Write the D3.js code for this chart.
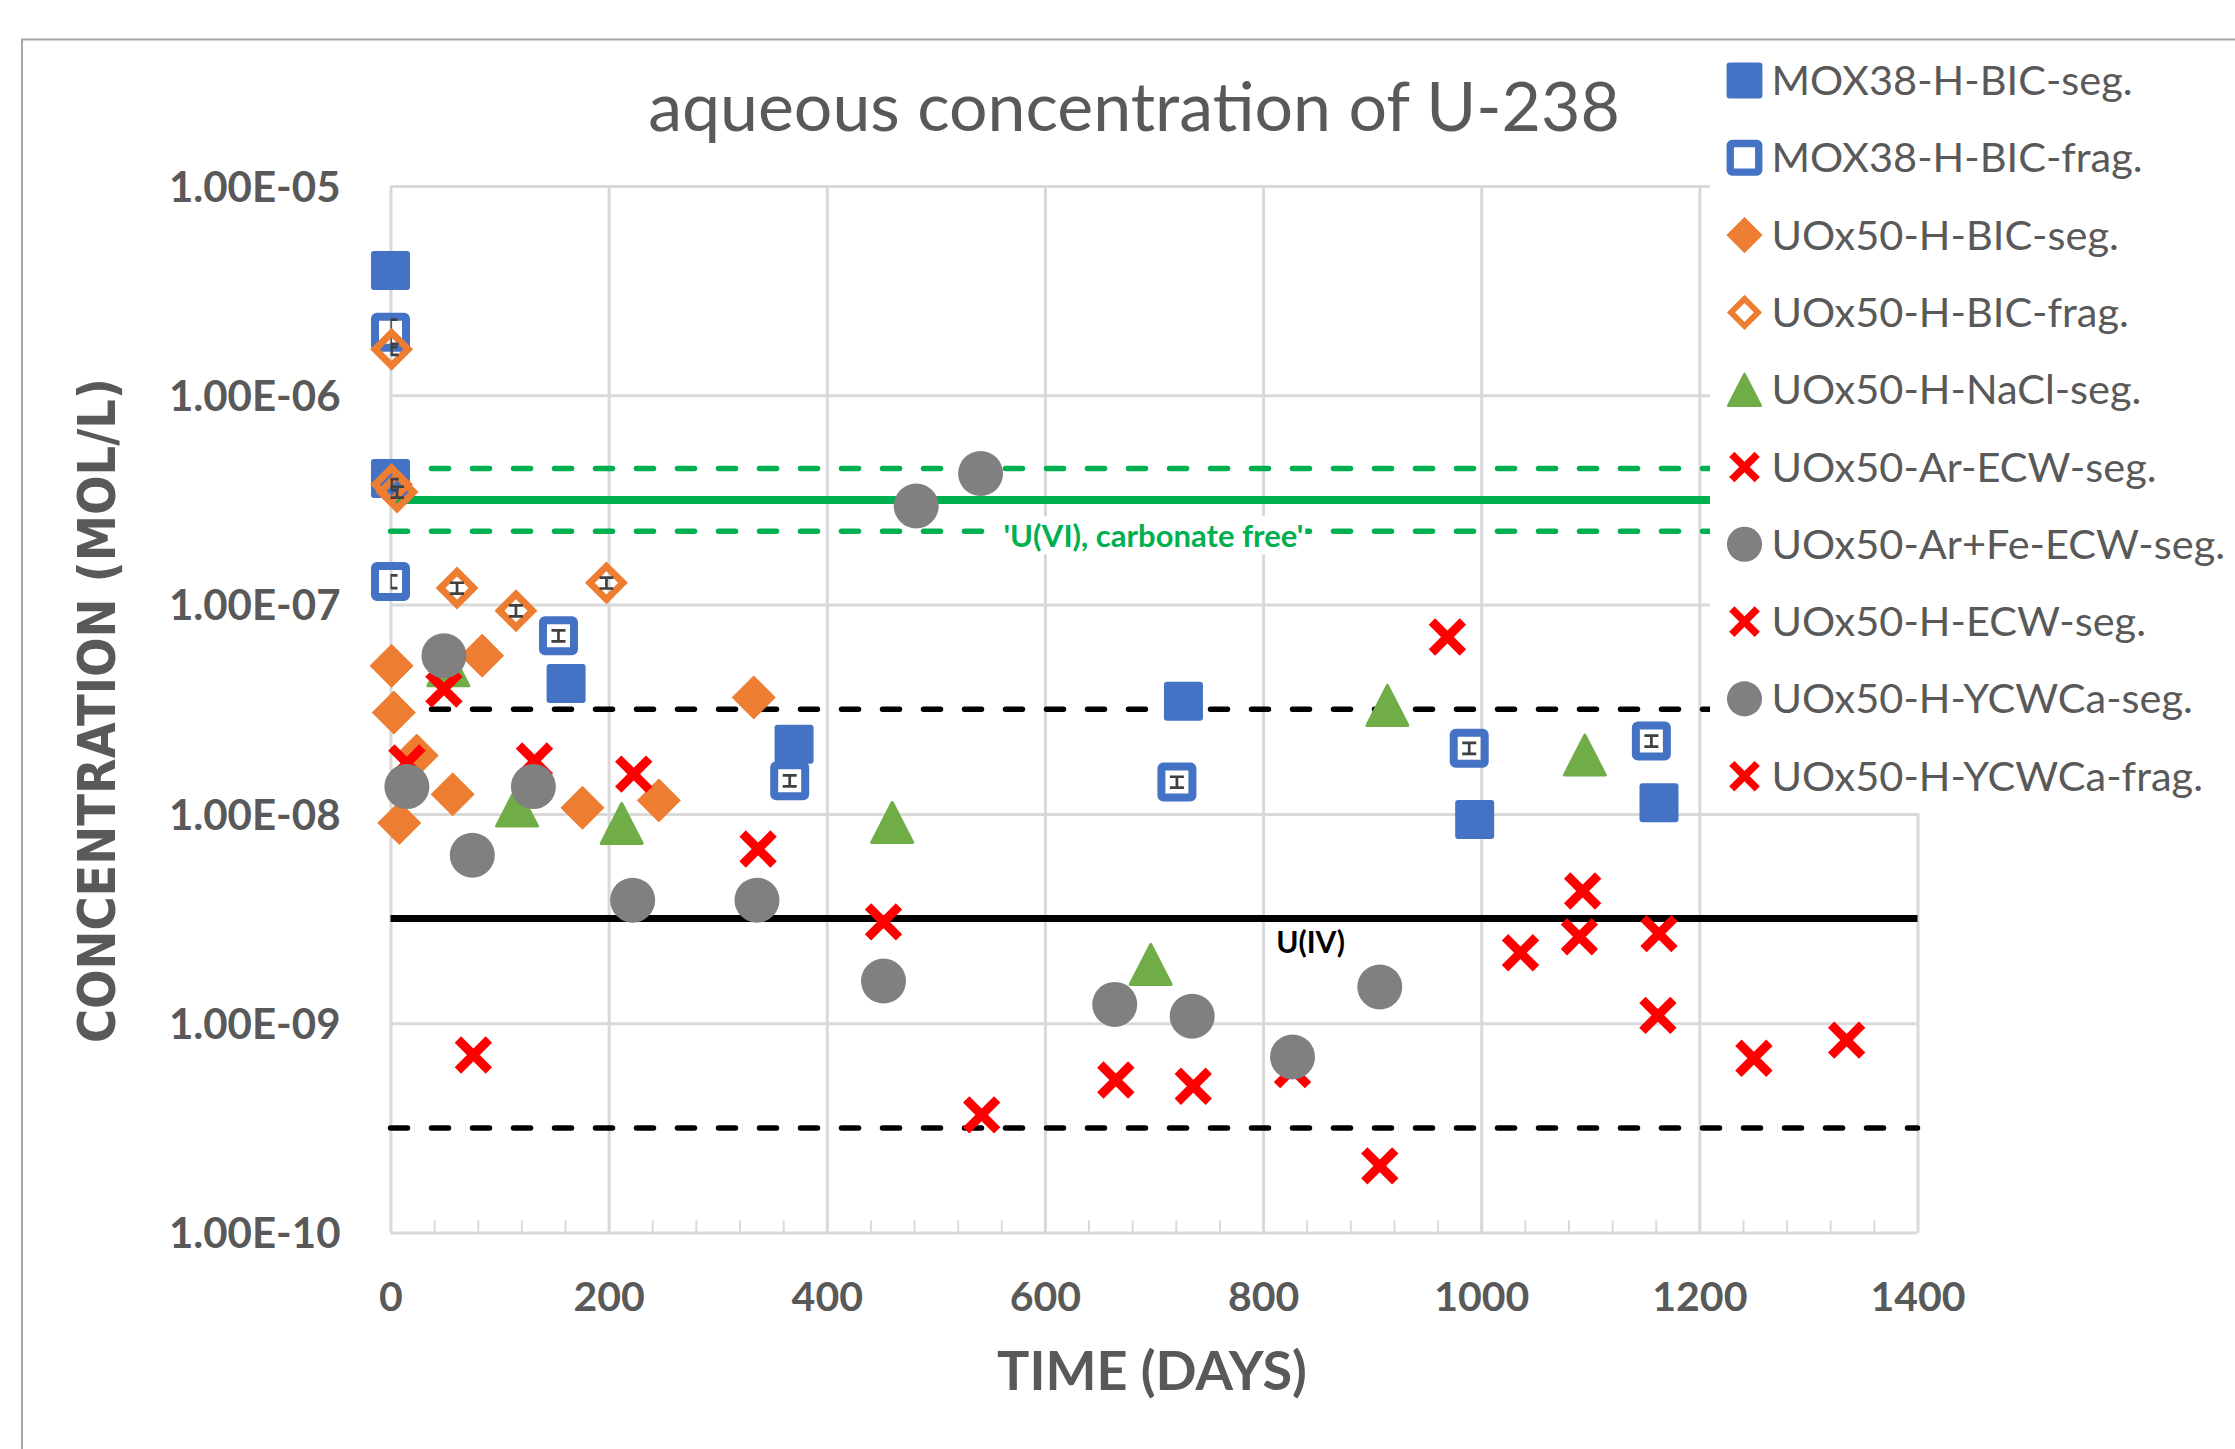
<!DOCTYPE html>
<html>
<head>
<meta charset="utf-8">
<script src="https://cdn.jsdelivr.net/npm/d3@7"></script>
<style>
  body { margin: 0; background: #fff; }
  svg { display: block; }
</style>
</head>
<body>
<svg id="chart" width="2235" height="1449"></svg>
<script>
// values (days, mol/L)
const mox38SegDays = [0, 0, 161, 370, 727, 994, 1163];
const mox38SegConc = [3.95e-6, 4.0e-7, 4.2e-8, 2.15e-8, 3.45e-8, 9.4e-9, 1.13e-8];

const mox38FragDays = [0, 0, 154, 366, 721, 989, 1156];
const mox38FragConc = [2.0e-6, 1.29e-7, 7.1e-8, 1.44e-8, 1.42e-8, 2.06e-8, 2.23e-8];
const mox38FragErr = [0.15, 0.07, 0.06, 0.06, 0.06, 0.06, 0.06];

const uoxBicSegDays = [1, 3, 8, 24, 57, 84, 176, 246, 333];
const uoxBicSegConc = [5.1e-8, 3.05e-8, 9.05e-9, 1.9e-8, 1.24e-8, 5.7e-8, 1.07e-8, 1.16e-8, 3.6e-8];

const uoxBicFragDays = [1, 1, 6, 61, 115, 198];
const uoxBicFragConc = [1.66e-6, 3.75e-7, 3.45e-7, 1.2e-7, 9.35e-8, 1.27e-7];
const uoxBicFragErr = [0.06, 0.06, 0.06, 0.06, 0.06, 0.06];

const uoxNaclSegDays = [53, 116, 212, 460, 697, 914, 1095];
const uoxNaclSegConc = [5.1e-8, 1.09e-8, 9.0e-9, 9.1e-9, 1.91e-9, 3.3e-8, 1.91e-8];

const uoxArEcwDays = [15, 49, 132, 223, 337, 452, 542, 665, 736, 827, 907];
const uoxArEcwConc = [1.75e-8, 3.95e-8, 1.79e-8, 1.55e-8, 6.8e-9, 3.05e-9, 3.65e-10, 5.35e-10, 5.0e-10, 6.0e-10, 2.08e-10];

const uoxArFeEcwDays = [15, 49, 131, 222, 336, 452, 664, 735, 827, 907];
const uoxArFeEcwConc = [1.35e-8, 5.7e-8, 1.35e-8, 3.87e-9, 3.87e-9, 1.59e-9, 1.23e-9, 1.08e-9, 6.9e-10, 1.49e-9];

const uoxHEcwDays = [76, 969, 1036, 1090, 1163];
const uoxHEcwConc = [7.05e-10, 7.0e-8, 2.17e-9, 2.59e-9, 2.68e-9];

const uoxYcwSegDays = [75, 482, 541];
const uoxYcwSegConc = [6.35e-9, 2.96e-7, 4.23e-7];

const uoxYcwFragDays = [1093, 1162, 1250, 1335];
const uoxYcwFragConc = [4.28e-9, 1.09e-9, 6.8e-10, 8.3e-10];

// solubility levels
const uviLevel = 3.16e-7;
const uviBand = [2.24e-7, 4.47e-7];
const uivLevel = 3.16e-9;
const uivBand = [3.16e-10, 3.16e-8];

const xTicks = [0, 200, 400, 600, 800, 1000, 1200, 1400];
const yTicks = [1e-10, 1e-9, 1e-8, 1e-7, 1e-6, 1e-5];

const series = [
  { name: "MOX38-H-BIC-seg.", shape: "square", color: "#4472C4", days: mox38SegDays, conc: mox38SegConc },
  { name: "MOX38-H-BIC-frag.", shape: "squareOpen", color: "#4472C4", days: mox38FragDays, conc: mox38FragConc, err: mox38FragErr },
  { name: "UOx50-H-BIC-seg.", shape: "diamond", color: "#ED7D31", days: uoxBicSegDays, conc: uoxBicSegConc },
  { name: "UOx50-H-BIC-frag.", shape: "diamondOpen", color: "#ED7D31", days: uoxBicFragDays, conc: uoxBicFragConc, err: uoxBicFragErr },
  { name: "UOx50-H-NaCl-seg.", shape: "triangle", color: "#70AD47", days: uoxNaclSegDays, conc: uoxNaclSegConc },
  { name: "UOx50-Ar-ECW-seg.", shape: "cross", color: "#FF0000", days: uoxArEcwDays, conc: uoxArEcwConc },
  { name: "UOx50-Ar+Fe-ECW-seg.", shape: "circle", color: "#808080", days: uoxArFeEcwDays, conc: uoxArFeEcwConc },
  { name: "UOx50-H-ECW-seg.", shape: "cross", color: "#FF0000", days: uoxHEcwDays, conc: uoxHEcwConc },
  { name: "UOx50-H-YCWCa-seg.", shape: "circle", color: "#808080", days: uoxYcwSegDays, conc: uoxYcwSegConc },
  { name: "UOx50-H-YCWCa-frag.", shape: "cross", color: "#FF0000", days: uoxYcwFragDays, conc: uoxYcwFragConc },
];

const TEXT_GREY = "#595959";
const GRID = "#d9d9d9";
const FONT = "Lato, 'Open Sans', sans-serif";

const svg = d3.select("#chart");
const plot = { left: 390.5, right: 1917.5, top: 186, bottom: 1232.5 };

const x = d3.scaleLinear([0, 1400], [plot.left, plot.right]);
const y = d3.scaleLog([1e-10, 1e-5], [plot.bottom, plot.top]);

// chart frame (runs off the right and bottom of the picture)
svg.append("rect")
  .attr("x", 22).attr("y", 39.5)
  .attr("width", 2400).attr("height", 1500)
  .attr("fill", "#fff").attr("stroke", "#a6a6a6").attr("stroke-width", 2);

// gridlines
const gy = svg.append("g")
  .attr("transform", `translate(${plot.left},0)`)
  .call(d3.axisLeft(y).tickValues(yTicks).tickSize(-(plot.right - plot.left)).tickFormat(""));
gy.select(".domain").remove();
gy.selectAll("line").attr("stroke", GRID).attr("stroke-width", 3);

const gx = svg.append("g")
  .attr("transform", `translate(0,${plot.bottom})`)
  .call(d3.axisBottom(x).tickValues(xTicks).tickSize(-(plot.bottom - plot.top)).tickFormat(""));
gx.select(".domain").remove();
gx.selectAll("line").attr("stroke", GRID).attr("stroke-width", 3);

// minor ticks on the time axis
const gm = svg.append("g")
  .attr("transform", `translate(0,${plot.bottom})`)
  .call(d3.axisBottom(x).tickValues(d3.range(0, 1401, 40)).tickSize(-12).tickFormat(""));
gm.select(".domain").remove();
gm.selectAll("line").attr("stroke", GRID).attr("stroke-width", 2);

// tick labels
const fmtExp = (d) => "1.00E-" + String(Math.round(-Math.log10(d))).padStart(2, "0");

const yl = svg.append("g")
  .attr("transform", `translate(${plot.left},0)`)
  .call(d3.axisLeft(y).tickValues(yTicks).tickSize(0).tickPadding(50).tickFormat(fmtExp));
yl.select(".domain").remove();
yl.attr("font-family", FONT).attr("font-size", 42).attr("font-weight", "bold");
yl.selectAll("text").attr("fill", TEXT_GREY).attr("dy", "0.36em");

const xl = svg.append("g")
  .attr("transform", `translate(0,${plot.bottom})`)
  .call(d3.axisBottom(x).tickValues(xTicks).tickSize(0).tickPadding(49).tickFormat(d3.format("d")));
xl.select(".domain").remove();
xl.attr("font-family", FONT).attr("font-size", 41).attr("font-weight", "bold");
xl.selectAll("text").attr("fill", TEXT_GREY);

// axis titles and chart title
svg.append("text")
  .attr("x", 1152).attr("y", 1390)
  .attr("text-anchor", "middle")
  .attr("font-family", FONT).attr("font-size", 54).attr("font-weight", "bold")
  .attr("fill", TEXT_GREY)
  .text("TIME (DAYS)");

svg.append("text")
  .attr("transform", "translate(115,710.5) rotate(-90)")
  .attr("text-anchor", "middle")
  .attr("font-family", "'DejaVu Sans', sans-serif").attr("font-size", 52).attr("font-weight", "bold")
  .attr("textLength", 665).attr("lengthAdjust", "spacingAndGlyphs")
  .attr("fill", TEXT_GREY)
  .text("CONCENTRATION (MOL/L)");

svg.append("text")
  .attr("x", 1134).attr("y", 131)
  .attr("text-anchor", "middle")
  .attr("font-family", FONT).attr("font-size", 68)
  .attr("fill", TEXT_GREY)
  .text("aqueous concentration of U-238");

// solubility lines
function hline(v, color, width, dashed) {
  const l = svg.append("line")
    .attr("x1", x(0)).attr("x2", x(1400))
    .attr("y1", y(v)).attr("y2", y(v))
    .attr("stroke", color).attr("stroke-width", width);
  if (dashed) l.attr("stroke-dasharray", "17,24").attr("stroke-linecap", "round");
}
hline(uviBand[1], "#00B050", 5.5, true);
hline(uviLevel, "#00B050", 8, false);
hline(uviBand[0], "#00B050", 5.5, true);
hline(uivBand[1], "#000", 5.5, true);
hline(uivLevel, "#000", 7, false);
hline(uivBand[0], "#000", 5.5, true);

// line labels
const uviLabel = svg.append("g");
const uviText = uviLabel.append("text")
  .attr("x", x(562)).attr("y", y(uviBand[0]) + 16)
  .attr("font-family", FONT).attr("font-size", 31).attr("font-weight", "bold")
  .attr("fill", "#00B050")
  .text("'U(VI), carbonate free'");
const bb = uviText.node().getBBox();
uviLabel.insert("rect", "text")
  .attr("x", bb.x - 2).attr("y", bb.y)
  .attr("width", bb.width + 4).attr("height", bb.height)
  .attr("fill", "#fff");

svg.append("text")
  .attr("x", x(812)).attr("y", y(uivLevel) + 34)
  .attr("font-family", FONT).attr("font-size", 30).attr("font-weight", "bold")
  .attr("fill", "#000")
  .text("U(IV)");

// legend panel sits over the top right of the plot
svg.append("rect")
  .attr("x", 1710).attr("y", 41)
  .attr("width", 600).attr("height", 772)
  .attr("fill", "#fff");

function drawMarker(g, shape, color, s) {
  if (shape === "square") {
    g.append("rect").attr("x", -19.5 * s).attr("y", -19.5 * s)
      .attr("width", 39 * s).attr("height", 39 * s).attr("rx", 3).attr("fill", color);
  } else if (shape === "squareOpen") {
    g.append("rect").attr("x", -15.5 * s).attr("y", -15.5 * s)
      .attr("width", 31 * s).attr("height", 31 * s).attr("rx", 2)
      .attr("fill", "none").attr("stroke", color).attr("stroke-width", 8 * s);
  } else if (shape === "diamond") {
    const h = 21.5 * s;
    g.append("path").attr("d", `M0,${-h}L${h},0L0,${h}L${-h},0Z`)
      .attr("fill", color).attr("stroke", color).attr("stroke-width", 1).attr("stroke-linejoin", "round");
  } else if (shape === "diamondOpen") {
    const h = 16.5 * s;
    g.append("path").attr("d", `M0,${-h}L${h},0L0,${h}L${-h},0Z`)
      .attr("fill", "none").attr("stroke", color).attr("stroke-width", 7 * s);
  } else if (shape === "triangle") {
    const h = 20 * s, w = 20.5 * s;
    g.append("path").attr("d", `M0,${-h}L${w},${h}L${-w},${h}Z`)
      .attr("fill", color).attr("stroke", color).attr("stroke-width", 3 * s).attr("stroke-linejoin", "round");
  } else if (shape === "cross") {
    const h = 15.5 * s;
    g.append("path").attr("d", `M${-h},${-h}L${h},${h}M${h},${-h}L${-h},${h}`)
      .attr("fill", "none").attr("stroke", color).attr("stroke-width", 9 * s);
  } else if (shape === "circle") {
    g.append("circle").attr("r", 22.5 * s).attr("fill", color);
  }
}

// clip for the error bars, as in the source chart
svg.append("clipPath").attr("id", "plot-clip")
  .append("rect")
  .attr("x", plot.left).attr("y", plot.top)
  .attr("width", plot.right - plot.left).attr("height", plot.bottom - plot.top);

const marks = svg.append("g");
series.forEach((s) => {
  const pts = s.days.map((d, i) => ({ d, v: s.conc[i], e: s.err ? s.err[i] : 0 }));
  const g = marks.append("g");
  g.selectAll("g.pt").data(pts).join("g")
    .attr("class", "pt")
    .attr("transform", (p) => `translate(${x(p.d)},${y(p.v)})`)
    .each(function () { drawMarker(d3.select(this), s.shape, s.color, 1); });

  if (s.err) {
    const eb = g.append("g").attr("clip-path", "url(#plot-clip)")
      .attr("stroke", "#404040").attr("stroke-width", 2.7).attr("fill", "none");
    eb.selectAll("path").data(pts).join("path")
      .attr("d", (p) => {
        const cx = x(p.d), y1 = y(p.v * (1 + p.e)), y2 = y(p.v * (1 - p.e));
        return `M${cx - 7},${y1}H${cx + 7}M${cx},${y1}V${y2}M${cx - 7},${y2}H${cx + 7}`;
      });
  }
});

// legend
const legendScale = { square: 0.92, squareOpen: 0.92, diamond: 0.82, diamondOpen: 0.82, triangle: 0.8, cross: 0.82, circle: 0.78 };
const legend = svg.append("g");
series.forEach((s, i) => {
  const row = legend.append("g").attr("transform", `translate(1744.5,${80.5 + i * 77.3})`);
  drawMarker(row, s.shape, s.color, legendScale[s.shape]);
  row.append("text")
    .attr("x", 27).attr("y", 14.5)
    .attr("font-family", FONT).attr("font-size", 41.5)
    .attr("fill", TEXT_GREY)
    .text(s.name);
});
</script>
</body>
</html>
